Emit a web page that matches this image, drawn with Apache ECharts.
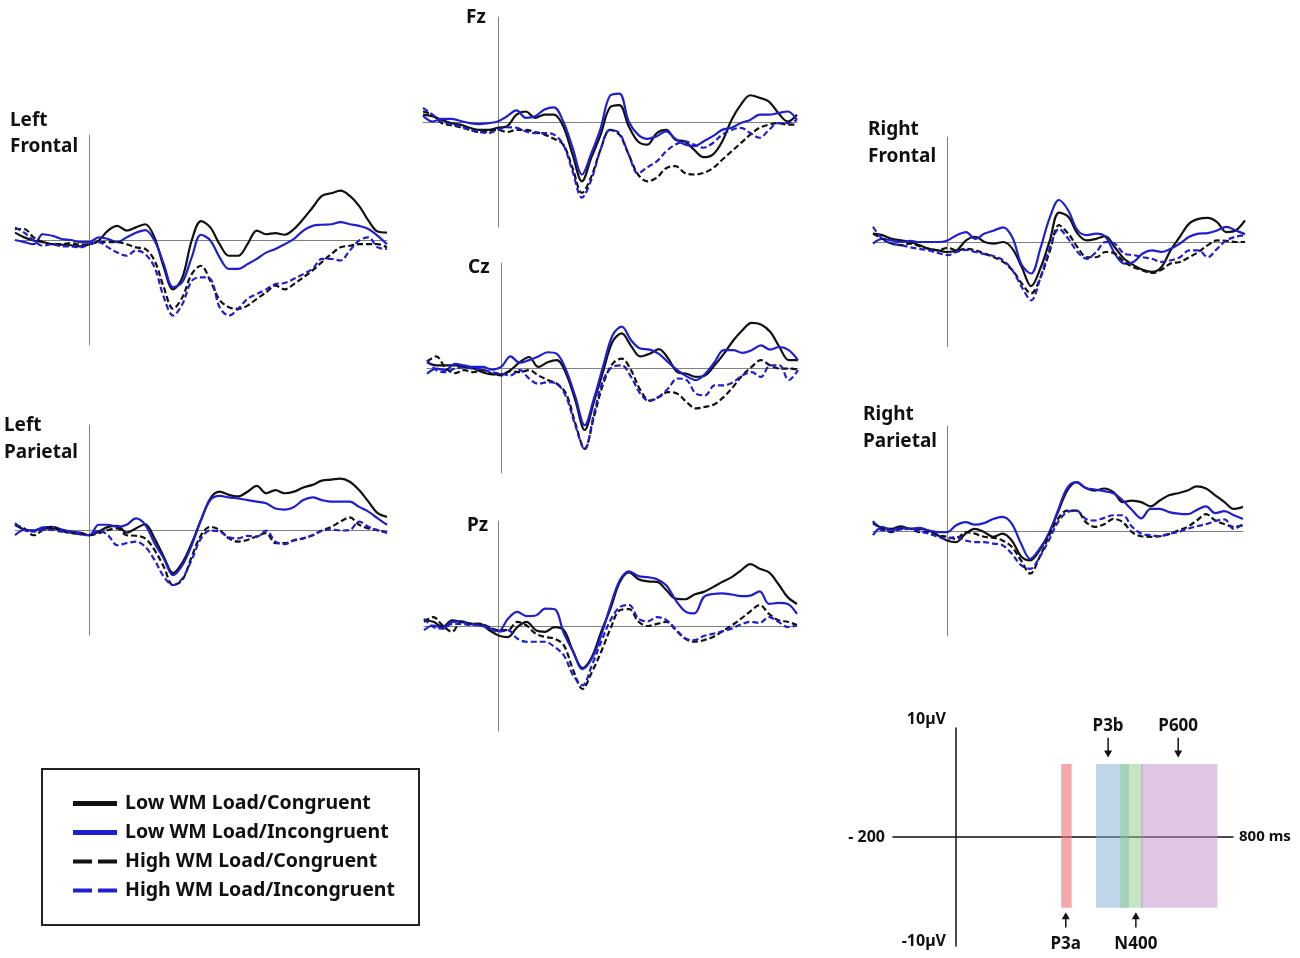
<!DOCTYPE html>
<html>
<head>
<meta charset="utf-8">
<title>ERP waveforms</title>
<script src="https://cdn.jsdelivr.net/npm/echarts@6/dist/echarts.min.js"></script>
<style>
  html, body { margin: 0; padding: 0; background: #fff; }
  #chart { width: 1300px; height: 958px; }
</style>
</head>
<body>
<div id="chart"></div>
<script>
// time points (ms) of the sampled waveforms
var times = [-200, -175, -150, -125, -100, -75, -50, -25, 0, 25, 50, 75, 100, 125, 150, 175, 200,
  225, 250, 275, 300, 325, 350, 375, 400, 425, 450, 475, 500, 525, 550, 575, 600, 625, 650, 675,
  700, 725, 750, 775, 800];

var conditionNames = ['Low WM Load/Congruent', 'Low WM Load/Incongruent',
  'High WM Load/Congruent', 'High WM Load/Incongruent'];

// amplitudes in microvolts
var leftFrontalLC = [0.7,0.25,-0.05,-0.2,-0.4,-0.45,-0.5,-0.6,-0.4,-0.05,0.9,1.35,0.9,1.2,1.5,0.25,-2.6,-4.7,-3.55,-0.05,1.8,1.2,-0.4,-1.5,-1.5,-0.4,0.9,0.55,0.65,0.5,1.05,2.0,3.1,4.2,4.45,4.7,4.2,3.25,1.85,0.8,0.7];
var leftFrontalLI = [0.0,-0.2,-0.4,0.55,0.4,0.1,0,-0.2,-0.2,0.25,0.1,-0.2,0.25,0.7,0.95,-0.05,-2.3,-4.5,-4.0,-1.65,0.5,-0.05,-1.65,-2.75,-2.75,-2.3,-1.8,-1.2,-0.85,-0.4,0.1,0.9,1.35,1.45,1.5,1.7,1.5,1.35,1.05,0.4,-0.4];
var leftFrontalHC = [1.05,1.05,0.25,-0.2,-0.4,-0.4,-0.3,-0.45,-0.4,-0.2,-0.2,-0.2,-0.4,-0.7,-0.85,-1.95,-4.5,-6.55,-5.45,-3.25,-2.45,-3.9,-5.7,-6.4,-6.55,-6.25,-5.6,-5.0,-4.35,-4.7,-4.2,-3.55,-2.9,-2.1,-1.35,-0.7,-0.55,-0.4,-0.4,-0.4,-0.7];
var leftFrontalHI = [1.2,0.7,-0.05,-0.55,-0.4,-0.6,-0.6,-0.7,-0.4,-0.2,-0.7,-1.2,-1.5,-1.0,-1.35,-2.6,-5.45,-7.2,-6.1,-3.9,-3.55,-3.7,-6.4,-7.2,-6.55,-5.6,-5.15,-4.7,-4.2,-4.1,-3.7,-3.25,-2.75,-1.8,-1.8,-1.95,-1.0,-0.05,0.25,-0.7,-0.85];

var fzLC = [0.7,0.55,0.2,-0.1,-0.25,-0.55,-0.75,-0.75,-0.55,-0.4,0.7,1.0,0.4,0.7,0.7,-0.4,-3.1,-5.65,-3.4,-1.2,1.4,1.6,-0.4,-1.85,-2.15,-1.05,-0.75,-1.7,-1.85,-2.65,-3.35,-3.1,-1.85,0.2,1.65,2.55,2.3,1.95,0.85,0.05,0.7];
var fzLI = [0.6,0.05,0.3,0.3,0.1,-0.1,-0.2,-0.1,0.05,0.55,1.1,0.4,0.55,1.2,1.4,0.05,-2.45,-5.0,-3.0,-0.6,2.5,2.7,0.05,-1.2,-1.6,-1.35,-0.9,-1.6,-2.15,-2.3,-1.85,-1.35,-0.75,-0.55,-0.1,0.2,0.7,0.7,0.85,1.0,0.2];
var fzHC = [1.0,0.7,-0.1,-0.3,-0.5,-0.75,-0.95,-0.9,-0.75,-0.95,-0.75,-0.75,-0.95,-1.2,-1.6,-2.15,-4.4,-6.75,-5.2,-2.6,-0.75,-1.2,-3.1,-5.0,-5.65,-5.3,-4.4,-4.2,-4.85,-5.0,-4.85,-4.4,-3.6,-2.8,-2.0,-1.2,-0.55,-0.25,-0.1,-0.25,-0.25];
var fzHI = [1.35,0.7,0.05,-0.2,-0.4,-0.75,-0.95,-1.05,-0.75,-0.5,-0.55,-0.9,-1.05,-1.05,-1.2,-2.15,-4.7,-7.2,-5.5,-2.6,-0.75,-1.05,-3.1,-4.9,-4.3,-3.75,-2.8,-2.15,-1.85,-2.15,-2.45,-2.0,-1.2,-0.75,-0.55,-1.05,-1.5,-0.75,-0.1,-0.1,0.2];

var rightFrontalLC = [0.8,0.65,0.3,0.15,0,-0.3,-0.65,-0.8,-0.95,-0.8,0.15,0.5,0,-0.15,0,-0.65,-2.4,-4.2,-2.5,0.1,2.8,2.4,0.8,0.15,0.3,0.55,-0.5,-1.6,-2.2,-2.65,-2.85,-2.4,-0.8,0.5,1.75,2.2,2.3,1.9,0.95,1.1,2.05];
var rightFrontalLI = [-0.15,0.3,0.15,0,0.1,0,0,0,0.15,0.65,0.95,0.3,0.8,1.1,1.4,0.4,-2.2,-3.0,-0.6,2.3,4.0,3.0,1.1,0.65,0.8,0.5,-1.1,-2.05,-1.9,-1.1,-0.8,-0.95,-0.65,-0.15,0.5,0.8,0.85,1.1,1.45,1.1,0.75];
var rightFrontalHC = [0.8,0.3,-0.15,-0.3,-0.15,-0.4,-0.65,-0.8,-0.55,-0.8,-0.65,-0.8,-1.1,-1.45,-1.9,-2.7,-3.95,-4.9,-3.4,-0.9,1.6,0.8,-0.5,-1.45,-1.45,-0.95,-1.1,-1.9,-2.4,-2.7,-2.95,-2.65,-2.05,-1.9,-1.45,-0.95,-0.3,0.15,0.1,0,0];
var rightFrontalHI = [1.45,0.3,-0.15,-0.3,-0.5,-0.65,-0.8,-1.05,-1.25,-0.95,-0.75,-0.95,-1.15,-1.35,-1.75,-2.7,-4.3,-5.55,-3.4,-0.6,1.25,0.3,-0.95,-1.6,-0.95,0,-0.15,-1.1,-1.25,-1.45,-1.6,-1.9,-1.75,-1.45,-0.8,-0.8,-1.45,-0.65,0.15,0.5,0.65];

var czLC = [0.55,0.25,0.25,0.25,0.1,-0.05,-0.4,-0.6,-0.6,-0.2,0.55,1.05,0.1,0.55,0.75,-0.55,-3.1,-5.9,-3.2,-0.3,2.5,3.3,2.1,1.1,1.35,1.8,0.9,-0.4,-0.55,-0.85,-0.7,0.25,1.35,2.6,3.6,4.3,4.15,3.45,2.0,0.75,0.75];
var czLI = [-0.55,-0.05,-0.2,0.4,0.25,0.1,0.1,-0.15,0.1,1.1,0.5,0.75,1.1,1.5,1.35,-0.2,-2.75,-5.45,-2.9,0.2,3.1,3.95,2.65,1.85,1.75,1.35,0.55,-0.2,-0.8,-1.15,-0.55,0.55,1.7,1.7,1.45,1.7,2.15,1.75,2.0,1.7,0.75];
var czHC = [0.6,1.1,0.0,-0.5,-0.2,-0.4,-0.2,-0.55,-0.7,-0.3,-0.4,-0.2,-0.7,-1.15,-1.5,-2.45,-5.3,-7.7,-4.65,-1.5,0.4,0.9,-0.2,-2.1,-3.1,-2.75,-2.3,-2.45,-3.25,-3.85,-3.7,-3.45,-2.75,-1.8,-0.7,0.1,0.75,0.25,-0.05,-0.05,-0.15];
var czHI = [0.75,-0.2,-0.4,-0.05,0.05,-0.05,-0.15,-0.4,-0.55,-0.7,-0.2,-1.0,-1.5,-1.35,-1.5,-2.75,-5.5,-7.75,-4.35,-1.15,0.1,0.25,-0.85,-2.45,-3.15,-2.75,-1.95,-1.0,-1.15,-2.45,-2.6,-1.65,-1.65,-1.35,-0.7,-0.4,-0.85,0.25,0.25,-1.15,-0.2];

var leftParietalLC = [0.5,0.05,-0.05,0.15,0.15,0,-0.25,-0.4,-0.5,-0.15,0.3,0.4,-0.25,0.15,0.55,-0.8,-2.55,-4.1,-3.1,-1.25,0.95,3.0,3.65,3.35,3.2,3.65,4.2,3.5,3.8,3.5,3.65,4.05,4.3,4.7,4.8,4.9,4.6,3.8,2.7,1.6,1.25];
var leftParietalLI = [-0.5,0,-0.05,0.25,0.3,0.05,-0.15,-0.25,-0.5,0.5,0.5,0.3,0.5,1.1,0.5,-1.25,-2.7,-4.3,-3.35,-1.45,0.95,2.85,3.25,3.1,3.0,2.85,2.7,2.55,2.05,1.95,2.2,2.85,3.1,2.85,2.7,2.7,2.7,2.2,1.75,1.1,0.5];
var leftParietalHC = [0.5,0.15,-0.5,0,0.3,-0.05,-0.3,-0.3,-0.5,-0.3,0,0.15,-0.5,-0.55,-0.8,-1.9,-3.5,-5.25,-4.75,-2.55,-0.5,0.3,0,-0.8,-1.1,-0.95,-0.6,-0.3,-1.25,-1.25,-1.0,-0.8,-0.5,-0.05,0.3,0.8,1.2,0.5,0.15,0,-0.25];
var leftParietalHI = [0.65,0,-0.15,0,0,-0.15,-0.15,-0.4,-0.5,-0.05,-0.5,-1.45,-1.25,-1.1,-1.6,-2.85,-4.45,-5.25,-4.6,-2.85,-0.8,-0.05,-0.15,-0.7,-0.8,-0.55,-0.65,-0.05,-1.1,-1.35,-0.95,-0.8,-0.5,-0.05,0.05,-0.05,0,0.8,0.3,-0.05,-0.25];

var rightParietalLC = [0.7,0.3,0.2,0.45,0.2,0.2,0.05,-0.4,-0.9,-1.05,-0.25,0.2,-0.1,-0.55,-0.25,-0.9,-2.4,-2.8,-1.85,-0.25,1.8,3.85,4.65,4.1,3.85,4.05,3.7,2.75,2.9,2.75,2.35,2.9,3.4,3.6,3.85,4.25,4.05,3.4,2.75,2.1,2.3];
var rightParietalLI = [-0.4,0.4,0.05,0.3,0.2,0.3,0.05,-0.1,-0.1,0.55,0.85,0.6,0.75,1.15,1.35,0.7,-1.2,-2.65,-1.7,-0.25,1.95,4.1,4.65,4.1,3.95,3.8,3.6,2.9,2.0,1.2,2.1,2.1,1.8,1.65,1.6,2.0,2.35,1.7,1.9,1.5,1.15];
var rightParietalHC = [0.85,0.2,-0.1,0.2,0.2,-0.1,-0.1,-0.4,-0.55,-0.75,-0.1,-0.25,-0.55,-0.65,-0.9,-1.5,-2.8,-4.05,-2.5,-0.55,1.15,1.95,1.95,0.85,0.4,0.65,1.15,0.85,-0.1,-0.5,-0.55,-0.5,-0.3,0.05,0.4,1.0,1.6,1.0,0.65,0.4,0.55];
var rightParietalHI = [0.95,0.05,0,0.15,0.2,0,-0.25,-0.55,-0.75,-0.55,-0.9,-1.05,-1.05,-1.2,-1.35,-2.15,-3.25,-3.6,-2.5,-0.9,0.85,1.8,1.95,1.15,1.0,1.25,1.5,1.5,0.4,-0.25,-0.4,-0.5,-0.25,-0.1,0.2,0.45,0.65,0.95,1.1,0.2,0.7];

var pzLC = [0.55,0.4,-0.1,0.55,0.4,0.2,0.2,-0.4,-0.9,-1.05,-0.1,0.4,-0.4,-0.55,-0.1,-0.4,-2.45,-4.0,-2.95,-0.55,1.65,4.2,5.1,4.45,4.25,4.2,3.4,2.6,2.55,3.0,3.25,3.7,4.2,4.65,5.3,5.9,5.45,5.1,4.0,2.75,2.1];
var pzLI = [-0.4,0.05,-0.2,0.4,0.45,0.2,0.05,-0.2,-0.5,0.7,1.35,0.95,1.0,1.65,1.6,-0.7,-2.45,-4.1,-3.1,-0.9,1.95,4.35,5.2,4.75,4.65,4.45,3.85,2.45,1.4,1.2,2.75,3.05,3.1,3.0,2.85,2.9,3.3,2.1,2.2,2.1,1.15];
var pzHC = [0.4,0.85,0.05,-0.55,0.4,0.2,0.2,-0.1,-0.4,-0.4,0.4,0.05,-0.75,-1.05,-1.2,-1.85,-4.2,-6.0,-4.4,-2.45,-0.25,1.5,1.6,0.4,0,0.2,0.4,-0.4,-1.2,-1.5,-1.35,-1.05,-0.5,0.05,0.7,1.4,2.0,1.15,0.55,0.4,0.1];
var pzHI = [0.7,-0.1,-0.25,0.2,0.2,0.1,0.1,-0.2,-0.55,-0.4,-1.2,-1.5,-1.5,-1.5,-2.0,-2.8,-4.7,-5.65,-3.75,-1.5,0.55,1.8,2.0,0.7,0.45,0.85,0.55,-0.3,-1.15,-1.35,-0.95,-0.75,-0.5,-0.25,0.15,0.4,0.3,0.85,0.4,-0.1,0.05];

// schematic of the component windows (ms)
var componentNames = ['P3a', 'P3b', 'N400', 'P600'];
var componentStart = [305, 405, 475, 535];
var componentEnd = [335, 500, 540, 755];
var componentArrowAt = [318, 440, 520, 642];
var componentLabelSide = ['bottom', 'top', 'bottom', 'top'];

var bandTop = 6.7, bandBottom = -6.5;

// layout of the seven electrode panels
var panels = [
  { title: ['Left', 'Frontal'], data: [leftFrontalLC, leftFrontalLI, leftFrontalHC, leftFrontalHI],
    left: 15, top: 135, width: 372, tx: 10, ty: [121, 147] },
  { title: ['Fz'], data: [fzLC, fzLI, fzHC, fzHI],
    left: 423, top: 17, width: 374, tx: 466, ty: [18] },
  { title: ['Right', 'Frontal'], data: [rightFrontalLC, rightFrontalLI, rightFrontalHC, rightFrontalHI],
    left: 873, top: 137, width: 372, tx: 868, ty: [130, 157] },
  { title: ['Cz'], data: [czLC, czLI, czHC, czHI],
    left: 427, top: 263, width: 371, tx: 468, ty: [268] },
  { title: ['Left', 'Parietal'], data: [leftParietalLC, leftParietalLI, leftParietalHC, leftParietalHI],
    left: 15, top: 425, width: 372, tx: 4, ty: [426, 453] },
  { title: ['Right', 'Parietal'], data: [rightParietalLC, rightParietalLI, rightParietalHC, rightParietalHI],
    left: 873, top: 426, width: 370, tx: 863, ty: [415, 442] },
  { title: ['Pz'], data: [pzLC, pzLI, pzHC, pzHI],
    left: 424, top: 521, width: 373, tx: 467, ty: [526] }
];

var blue = '#1f1fcf';
var conditionStyles = [
  { color: '#111', type: 'solid' },
  { color: blue, type: 'solid' },
  { color: '#111', type: [6, 3] },
  { color: blue, type: [6, 3] }
];
// legend swatches: a bar for solid, two bars for dashed
var legendIcons = ['rect', 'rect', 'path://M0,0H19V4H0Z M25,0H44V4H25Z', 'path://M0,0H19V4H0Z M25,0H44V4H25Z'];
var font = '"Noto Sans", "DejaVu Sans", sans-serif';

var chart = echarts.init(document.getElementById('chart'));

var grids = [], xAxes = [], yAxes = [], series = [], graphics = [];

panels.forEach(function (p, k) {
  grids.push({ left: p.left, top: p.top, width: p.width, height: 210 });
  xAxes.push({
    type: 'value', gridIndex: k, min: -200, max: 800,
    axisLine: { onZero: true, lineStyle: { color: '#808080', width: 1 } },
    axisTick: { show: false }, axisLabel: { show: false }, splitLine: { show: false }
  });
  yAxes.push({
    type: 'value', gridIndex: k, min: -10, max: 10,
    axisLine: { show: true, onZero: true, lineStyle: { color: '#808080', width: 1 } },
    axisTick: { show: false }, axisLabel: { show: false }, splitLine: { show: false }
  });
  p.data.forEach(function (vals, c) {
    series.push({
      name: conditionNames[c],
      type: 'line',
      xAxisIndex: k, yAxisIndex: k,
      data: times.map(function (t, i) { return [t, vals[i]]; }),
      smooth: 0.35,
      symbol: 'none',
      lineStyle: { color: conditionStyles[c].color, width: 2.2, type: conditionStyles[c].type },
      itemStyle: { color: conditionStyles[c].color },
      z: 2 + c
    });
  });
  p.title.forEach(function (line, j) {
    graphics.push({
      type: 'text', x: p.tx, y: p.ty[j],
      style: { text: line, fill: '#111', font: 'bold 19px ' + font, verticalAlign: 'middle' }
    });
  });
});

// schematic panel (index 7)
var s = panels.length;
grids.push({ left: 893, top: 728, width: 340, height: 218 });
xAxes.push({
  type: 'value', gridIndex: s, min: -180, max: 800,
  name: '800 ms', nameLocation: 'end', nameGap: 6,
  nameTextStyle: { fontFamily: font, fontWeight: 'bold', fontSize: 15, color: '#111' },
  axisLine: { onZero: true, lineStyle: { color: '#111', width: 1.5 } },
  axisTick: { show: false }, axisLabel: { show: false }, splitLine: { show: false }
});
yAxes.push({
  type: 'value', gridIndex: s, min: -10, max: 10,
  axisLine: { show: true, onZero: true, lineStyle: { color: '#111', width: 1.5 } },
  axisTick: { show: false }, axisLabel: { show: false }, splitLine: { show: false }
});

var componentColors = ['rgba(237,110,115,0.6)', 'rgba(125,173,209,0.5)',
  'rgba(137,205,137,0.5)', 'rgba(189,141,201,0.5)'];

series.push({
  type: 'custom',
  xAxisIndex: s, yAxisIndex: s,
  data: componentNames.map(function (n, i) { return [componentStart[i], componentEnd[i], i]; }),
  encode: { x: [0, 1] },
  silent: true,
  renderItem: function (params, api) {
    var i = api.value(2);
    var p0 = api.coord([api.value(0), bandTop]);
    var p1 = api.coord([api.value(1), bandBottom]);
    var up = componentLabelSide[i] === 'top';
    var tail = api.coord([componentArrowAt[i], up ? 9.1 : -8.3]);
    var tip = api.coord([componentArrowAt[i], up ? 7.3 : -6.9]);
    var lab = api.coord([componentArrowAt[i], up ? 10.2 : -9.8]);
    var d = up ? 1 : -1;
    return {
      type: 'group',
      children: [
        { type: 'rect', shape: { x: p0[0], y: p0[1], width: p1[0] - p0[0], height: p1[1] - p0[1] },
          style: { fill: componentColors[i] } },
        { type: 'line', shape: { x1: tail[0], y1: tail[1], x2: tip[0], y2: tip[1] - d * 5 },
          style: { stroke: '#111', lineWidth: 1.5 } },
        { type: 'polygon', shape: { points: [[tip[0], tip[1]], [tip[0] - 4, tip[1] - d * 7], [tip[0] + 4, tip[1] - d * 7]] },
          style: { fill: '#111' } },
        { type: 'text', x: lab[0], y: lab[1],
          style: { text: componentNames[i], fill: '#111', font: 'bold 17px ' + font, align: 'center', verticalAlign: 'middle' } }
      ]
    };
  }
});

graphics.push(
  { type: 'text', x: 885, y: 837, style: { text: '- 200', fill: '#111', font: 'bold 16px ' + font, align: 'right', verticalAlign: 'middle' } },
  { type: 'text', x: 946, y: 719, style: { text: '10µV', fill: '#111', font: 'bold 16px ' + font, align: 'right', verticalAlign: 'middle' } },
  { type: 'text', x: 946, y: 941, style: { text: '-10µV', fill: '#111', font: 'bold 16px ' + font, align: 'right', verticalAlign: 'middle' } }
);

chart.setOption({
  animation: false,
  backgroundColor: '#fff',
  grid: grids,
  xAxis: xAxes,
  yAxis: yAxes,
  legend: {
    left: 42, top: 769,
    orient: 'vertical',
    itemWidth: 44, itemHeight: 5, itemGap: 8,
    padding: [24, 24, 24, 31],
    borderColor: '#222', borderWidth: 2,
    textStyle: { fontFamily: font, fontWeight: 'bold', fontSize: 19.5, color: '#111', lineHeight: 21, padding: [0, 0, 0, 3] },
    data: conditionNames.map(function (n, c) {
      return { name: n, icon: legendIcons[c] };
    })
  },
  graphic: graphics,
  series: series
});
</script>
</body>
</html>
